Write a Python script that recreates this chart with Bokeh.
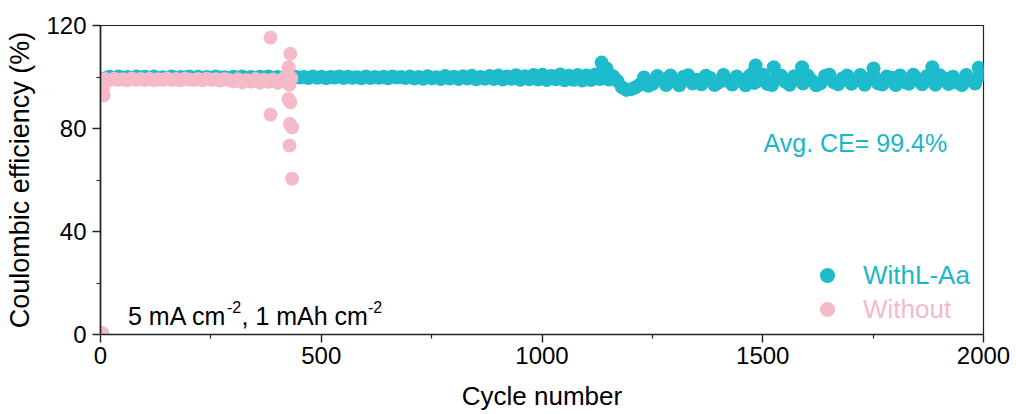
from bokeh.plotting import figure
from bokeh.models import Range1d, FixedTicker, Label, Legend, LegendItem
from bokeh.embed import file_html
from bokeh.resources import INLINE

# ---------------- data ----------------
x_ticks = [0, 500, 1000, 1500, 2000]
x_minor = [250, 750, 1250, 1750]
y_ticks = [0, 40, 80, 120]
y_minor = [20, 60, 100]

# WithL-Aa: cycles 1, 11, 21, ... 1991 and 1998
with_cycle = list(range(1, 2000, 10)) + [1998]
with_ce = [
    97.8, 99.5, 100.1, 99.6, 100.2, 99.7, 100.0, 99.5, 100.2, 99.8,
    100.1, 99.6, 100.2, 99.5, 99.9, 99.7, 100.2, 99.6, 100.0, 99.8,
    100.2, 99.5, 100.1, 99.7, 100.0, 99.6, 100.2, 99.8, 99.9, 99.5,
    100.1, 99.7, 100.2, 99.6, 100.0, 99.5, 100.1, 99.8, 100.2, 99.6,
    100.0, 99.7, 100.2, 99.5, 100.1, 99.8, 100.0, 99.6, 100.2, 99.7,
    100.1, 99.5, 100.0, 99.8, 100.2, 99.6, 100.1, 99.7, 99.9, 99.5,
    100.2, 99.6, 100.0, 99.7, 100.1, 99.5, 100.2, 99.8, 100.0, 99.6,
    100.2, 99.4, 100.0, 99.3, 100.3, 99.5, 99.9, 99.2, 100.4, 99.4,
    100.1, 99.2, 100.3, 99.4, 100.5, 99.1, 100.0, 99.3, 100.4, 99.2,
    100.6, 99.0, 100.2, 99.3, 100.7, 98.9, 100.3, 99.1, 100.8, 99.0,
    100.9, 98.8, 100.4, 99.1, 101.0, 98.7, 100.5, 98.9, 100.8, 98.6,
    100.6, 98.8, 101.0, 99.2, 100.4, 99.0, 100.3, 98.4, 96.0, 95.0,
    95.2, 95.9, 97.0, 99.8, 96.6, 97.4, 100.4, 99.1, 96.9, 100.6,
    98.2, 96.8, 100.1, 100.7, 97.5, 98.9, 97.2, 100.5, 99.6, 96.9,
    97.9, 100.8, 98.4, 97.1, 100.2, 99.0, 96.8, 100.6, 97.7, 98.6,
    100.9, 97.3, 96.9, 99.7, 100.6, 98.1, 97.0, 100.3, 99.2, 97.5,
    100.7, 98.6, 96.8, 97.6, 100.4, 100.9, 97.9, 97.2, 99.5, 100.6,
    97.4, 98.8, 100.8, 97.0, 99.3, 100.5, 97.6, 97.1, 100.2, 99.8,
    96.9, 100.6, 98.0, 97.4, 100.9, 99.1, 97.2, 100.3, 98.5, 97.0,
    100.7, 99.4, 97.3, 100.1, 97.8, 96.9, 100.8, 98.6, 97.5, 100.4,
    101.2,
]
# occasional high points of WithL-Aa
with_peak_cycle = [1135, 1146, 1479, 1484, 1525, 1589, 1751, 1884, 1989]
with_peak_ce = [105.6, 103.3, 101.9, 104.5, 103.8, 103.8, 103.3, 103.8, 103.6]

# Without: early cycles, regular cycles 11..431, and the failure scatter
without_cycle = [4, 6, 7] + list(range(11, 440, 10))
without_ce = [
    0.6, 95.5, 92.8,
    99.2, 98.8, 99.3, 98.9, 99.1, 98.7, 99.4, 98.9, 99.2, 98.8,
    99.3, 98.7, 99.1, 98.9, 99.4, 98.8, 99.2, 98.7, 99.3, 99.0,
    98.8, 99.2, 98.7, 99.3, 98.9, 99.1, 98.6, 99.2, 98.8, 98.3,
    99.1, 97.9, 98.8, 98.2, 99.2, 97.8, 98.9, 98.1, 99.0, 97.7,
    98.9, 98.0, 99.2,
]
without_fail_cycle = [385, 385, 430, 426, 426, 430, 429, 434, 428, 434, 423, 428, 432]
without_fail_ce = [115.3, 85.4, 109.0, 103.8, 91.5, 90.2, 81.8, 80.5, 73.4, 60.5, 101.0, 97.0, 99.5]

# ---------------- style ----------------
CYAN = "#1DBBCB"
PINK = "#F4BAC8"
CYAN_TXT = "#1BB7C9"
PINK_TXT = "#F3BACA"
FONT = "Liberation Sans"
AX = "#222222"

p = figure(width=1016, height=414, output_backend="svg", toolbar_location=None,
           x_range=Range1d(0, 2000), y_range=Range1d(0, 120),
           min_border_left=100, min_border_right=33, min_border_top=25,
           min_border_bottom=80)
p.background_fill_color = "white"
p.border_fill_color = "white"
p.outline_line_color = AX
p.outline_line_width = 1.2
p.xgrid.visible = False
p.ygrid.visible = False

r_with = p.scatter(with_cycle + with_peak_cycle, with_ce + with_peak_ce, size=14,
                   fill_color=CYAN, line_color=None)
r_without = p.scatter(without_cycle + without_fail_cycle, without_ce + without_fail_ce, size=14,
                      fill_color=PINK, line_color=None)

for ax in (p.xaxis[0], p.yaxis[0]):
    ax.axis_line_color = AX
    ax.axis_line_width = 1.6
    ax.major_tick_line_color = AX
    ax.minor_tick_line_color = AX
    ax.major_tick_line_width = 1.4
    ax.minor_tick_line_width = 1.2
    ax.major_tick_out = 8
    ax.major_tick_in = 0
    ax.minor_tick_out = 4
    ax.minor_tick_in = 0
    ax.major_label_text_font = FONT
    ax.major_label_text_font_size = "24px"
    ax.major_label_text_color = "black"
    ax.axis_label_text_font = FONT
    ax.axis_label_text_font_style = "normal"
    ax.axis_label_text_color = "black"

p.xaxis[0].ticker = FixedTicker(ticks=x_ticks, minor_ticks=x_minor)
p.yaxis[0].ticker = FixedTicker(ticks=y_ticks, minor_ticks=y_minor)
p.xaxis[0].axis_label = "Cycle number"
p.yaxis[0].axis_label = "Coulombic efficiency (%)"
p.xaxis[0].axis_label_text_font_size = "26px"
p.yaxis[0].axis_label_text_font_size = "27px"
p.xaxis[0].major_label_standoff = 4
p.yaxis[0].major_label_standoff = 6
p.xaxis[0].axis_label_standoff = 14
p.yaxis[0].axis_label_standoff = 8

# legends (two, so each label has its own colour)
for item_label, rend, col, loc in (("WithL-Aa", r_with, CYAN_TXT, (708, 40)),
                                   ("Without", r_without, PINK_TXT, (708, 6))):
    leg = Legend(items=[LegendItem(label=item_label, renderers=[rend])], location=loc,
                 padding=0, margin=0, spacing=0, glyph_width=38, glyph_height=38,
                 label_standoff=17, label_text_font=FONT, label_text_font_size="26px",
                 label_text_color=col, background_fill_alpha=0, border_line_alpha=0)
    p.add_layout(leg, "center")

# annotations
p.add_layout(Label(x=663, y=192, x_units="screen", y_units="screen", text="Avg. CE= 99.4%",
                   text_font=FONT, text_font_size="25px", text_color=CYAN_TXT,
                   text_baseline="alphabetic"))
cond = [("5 mA cm", 27.5, 19, "25px"), ("-2", 126.5, 28, "16px"),
        (", 1 mAh cm", 141, 19, "25px"), ("-2", 267.5, 28, "16px")]
for t, lx, ly, fs in cond:
    p.add_layout(Label(x=lx, y=ly, x_units="screen", y_units="screen", text=t,
                       text_font=FONT, text_font_size=fs, text_color="black",
                       text_baseline="alphabetic"))

open("out.html", "w").write(file_html(p, INLINE))
